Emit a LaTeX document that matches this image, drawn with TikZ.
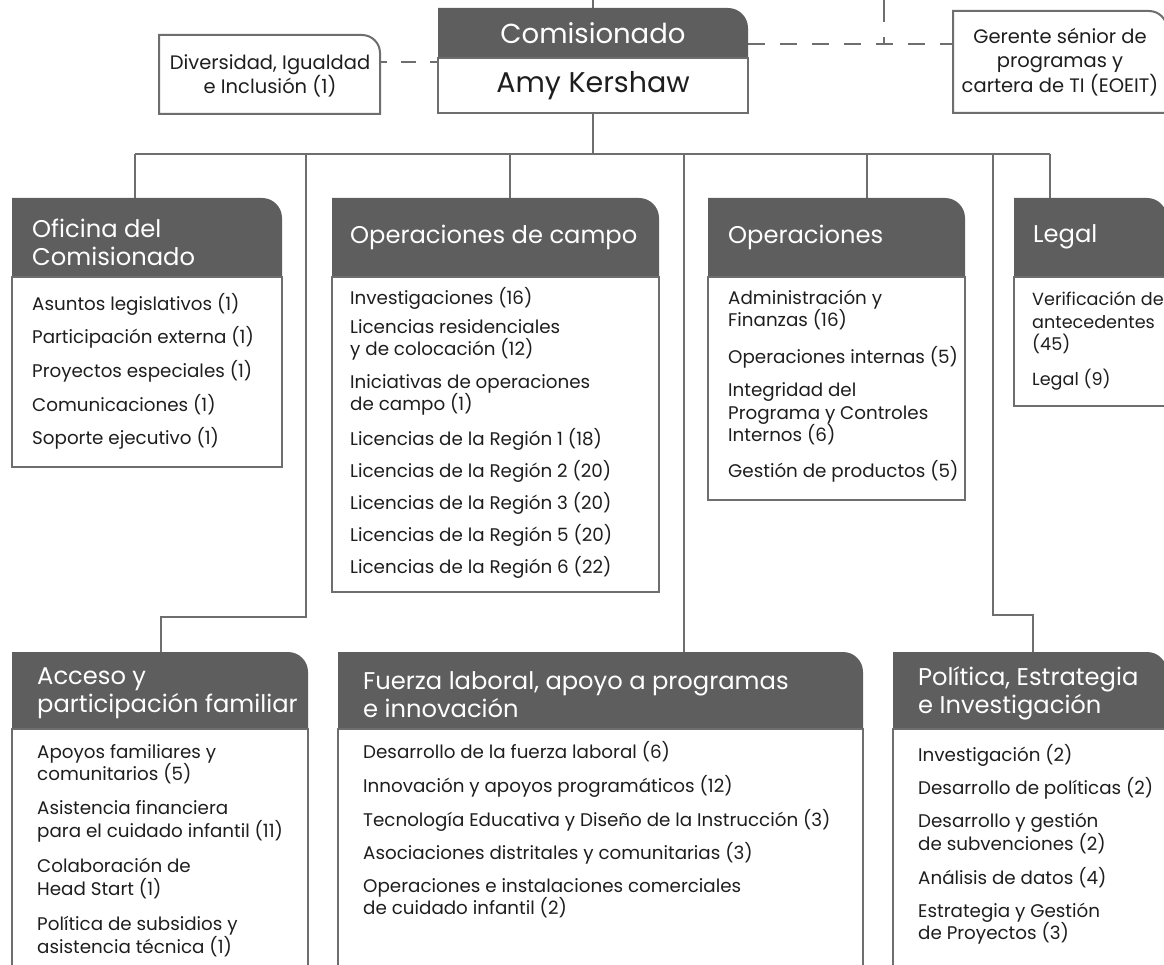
\documentclass[tikz,border=0pt]{standalone}
\usepackage{fontspec}
\setmainfont{Poppins}
\usetikzlibrary{calc}
\definecolor{hdr}{HTML}{5E5E5E}
\definecolor{ln}{HTML}{6E6E6E}
\definecolor{txt}{HTML}{1E1E1E}
% header box: x1 y1 x2 yh y2 (rounded top-right corner)
\newcommand\orgbox[5]{%
  \fill[hdr] (#1,#4) -- (#1,#2) -- ({#3-20},#2) .. controls ({#3-8.95},#2) and (#3,{#2+8.95}) .. (#3,{#2+20}) -- (#3,#4) -- cycle;
  \draw[bodyln] (#1,#4) rectangle (#3,#5);}
% white side box with rounded top-right corner: x1 y1 x2 y2
\newcommand\sidebox[4]{%
  \draw[bodyln] (#1,#4) -- (#1,#2) -- ({#3-18},#2) .. controls ({#3-8.06},#2) and (#3,{#2+8.06}) .. (#3,{#2+18}) -- (#3,#4) -- cycle;}
\begin{document}
\begin{tikzpicture}[x=1pt,y=-1pt,
  conn/.style={draw=ln, line width=2pt},
  dsh/.style={draw=ln, line width=1.6pt},
  bodyln/.style={draw=ln, line width=2pt, fill=white},
  itm/.style={anchor=west, align=left, inner sep=0pt, text=txt, font=\fontsize{18.3}{22.5}\selectfont},
  ttl/.style={anchor=west, align=left, inner sep=0pt, text=white, font=\fontsize{24.2}{28}\selectfont},
  side/.style={align=center, inner sep=0pt, text=txt, font=\fontsize{19.5}{24.5}\selectfont},
]
\useasboundingbox (0,0) rectangle (1164,965);
\clip (0,0) rectangle (1164,965);

% ---------- connectors ----------
\coordinate (top0) at (593,0);
\coordinate (commTop) at (593,8);
\coordinate (commBot) at (593,113);
\coordinate (busC) at (593,154);
\coordinate (busL) at (135,154);
\coordinate (busR) at (1050,154);
\coordinate (jB) at (306,154);
\coordinate (jC) at (510,154);
\coordinate (jD) at (684,154);
\coordinate (jE) at (867,154);
\coordinate (jF) at (993,154);
\coordinate (ofiTop) at (135,198);
\coordinate (campoTop) at (510,198);
\coordinate (operTop) at (867,198);
\coordinate (legalTop) at (1050,198);
\coordinate (accElbowA) at (306,617);
\coordinate (accElbowB) at (161,617);
\coordinate (accTop) at (161,652);
\coordinate (fueTop) at (684,652);
\coordinate (polElbowA) at (993,615);
\coordinate (polElbowB) at (1033,615);
\coordinate (polTop) at (1033,652);

\draw[conn] (top0) -- (commTop);
\draw[conn] (commBot) -- (busC);
\draw[conn] (busL) -- (busR);
\draw[conn] (busL) -- (ofiTop);
\draw[conn] (jC) -- (campoTop);
\draw[conn] (jE) -- (operTop);
\draw[conn] (busR) -- (legalTop);
\draw[conn] (jB) -- (accElbowA) -- (accElbowB) -- (accTop);
\draw[conn] (jD) -- (fueTop);
\draw[conn] (jF) -- (polElbowA) -- (polElbowB) -- (polTop);

% dashed links
\coordinate (commL) at (438,62);
\coordinate (divR) at (380,62);
\coordinate (commR) at (748,44);
\coordinate (gerL) at (953,44);
\coordinate (dTop) at (884,0);
\coordinate (dJ) at (884,44);
\draw[dsh, dash pattern=on 15pt off 14pt, dash phase=7pt] (commL) -- (divR);
\draw[dsh, dash pattern=on 17pt off 15pt] (commR) -- (gerL);
\draw[dsh, dash pattern=on 22pt off 15pt] (dTop) -- (dJ);

% ---------- commissioner ----------
\orgbox{438}{8}{748}{58}{113}
\node[text=white, inner sep=0pt, font=\fontsize{27.5}{30}\selectfont] (commT) at (593,33) {Comisionado};
\node[text=txt, inner sep=0pt, font=\fontsize{28.5}{30}\selectfont] (commN) at (593,86) {Amy Kershaw};

% side boxes
\sidebox{159}{35}{380}{114}
\node[side] (div) at (270,76) {Diversidad, Igualdad\\e Inclusión (1)};
\sidebox{953}{11}{1167}{113}
\node[side] (ger) at (1060,62) {Gerente sénior de\\programas y\\cartera de TI (EOEIT)};

% ---------- row 1 ----------
\orgbox{12}{198}{282}{277}{467}
\node[ttl] (ofiT) at (32,242) {Oficina del\\Comisionado};
\node[itm] (of1) at (32,304) {Asuntos legislativos (1)};
\node[itm] (of2) at (32,337.5) {Participación externa (1)};
\node[itm] (of3) at (32,371) {Proyectos especiales (1)};
\node[itm] (of4) at (32,404.5) {Comunicaciones (1)};
\node[itm] (of5) at (32,438) {Soporte ejecutivo (1)};

\orgbox{332}{198}{659}{277}{592}
\node[ttl] (camT) at (350,237) {Operaciones de campo};
\node[itm] (ca1) at (350,298) {Investigaciones (16)};
\node[itm] (ca2) at (350,340) {Licencias residenciales\\y de colocación (12)};
\node[itm] (ca3) at (350,395) {Iniciativas de operaciones\\de campo (1)};
\node[itm] (ca4) at (350,439) {Licencias de la Región 1 (18)};
\node[itm] (ca5) at (350,471) {Licencias de la Región 2 (20)};
\node[itm] (ca6) at (350,503) {Licencias de la Región 3 (20)};
\node[itm] (ca7) at (350,535) {Licencias de la Región 5 (20)};
\node[itm] (ca8) at (350,567) {Licencias de la Región 6 (22)};

\orgbox{708}{198}{965}{277}{500}
\node[ttl] (opT) at (728,237) {Operaciones};
\node[itm] (op1) at (728,310) {Administración y\\Finanzas (16)};
\node[itm] (op2) at (728,357) {Operaciones internas (5)};
\node[itm] (op3) at (728,414) {Integridad del\\Programa y Controles\\Internos (6)};
\node[itm] (op4) at (728,471) {Gestión de productos (5)};

\orgbox{1014}{198}{1167}{277}{406}
\node[ttl] (leT) at (1033,237) {Legal};
\node[itm, font=\fontsize{17.6}{22.5}\selectfont] (le1) at (1032,323) {Verificación de\\antecedentes\\(45)};
\node[itm, font=\fontsize{17.6}{22.5}\selectfont] (le2) at (1032,380) {Legal (9)};

% ---------- row 2 ----------
\orgbox{12}{652}{308}{729}{985}
\node[ttl] (acT) at (37,693) {Acceso y\\participación familiar};
\node[itm] (ac1) at (37,764) {Apoyos familiares y\\comunitarios (5)};
\node[itm] (ac2) at (37,821.5) {Asistencia financiera\\para el cuidado infantil (11)};
\node[itm] (ac3) at (37,878.5) {Colaboración de\\Head Start (1)};
\node[itm] (ac4) at (37,936.5) {Política de subsidios y\\asistencia técnica (1)};

\orgbox{338}{652}{863}{729}{985}
\node[ttl] (fuT) at (363,695) {Fuerza laboral, apoyo a programas\\e innovación};
\node[itm] (fu1) at (363,752) {Desarrollo de la fuerza laboral (6)};
\node[itm] (fu2) at (363,786) {Innovación y apoyos programáticos (12)};
\node[itm] (fu3) at (363,820) {Tecnología Educativa y Diseño de la Instrucción (3)};
\node[itm] (fu4) at (363,853) {Asociaciones distritales y comunitarias (3)};
\node[itm] (fu5) at (363,898) {Operaciones e instalaciones comerciales\\de cuidado infantil (2)};

\orgbox{893}{652}{1167}{729}{985}
\node[ttl] (poT) at (918,693.5) {Política, Estrategia\\e Investigación};
\node[itm] (po1) at (918,755) {Investigación (2)};
\node[itm] (po2) at (918,788) {Desarrollo de políticas (2)};
\node[itm] (po3) at (918,833.5) {Desarrollo y gestión\\de subvenciones (2)};
\node[itm] (po4) at (918,878) {Análisis de datos (4)};
\node[itm] (po5) at (918,923.5) {Estrategia y Gestión\\de Proyectos (3)};
\end{tikzpicture}
\end{document}
